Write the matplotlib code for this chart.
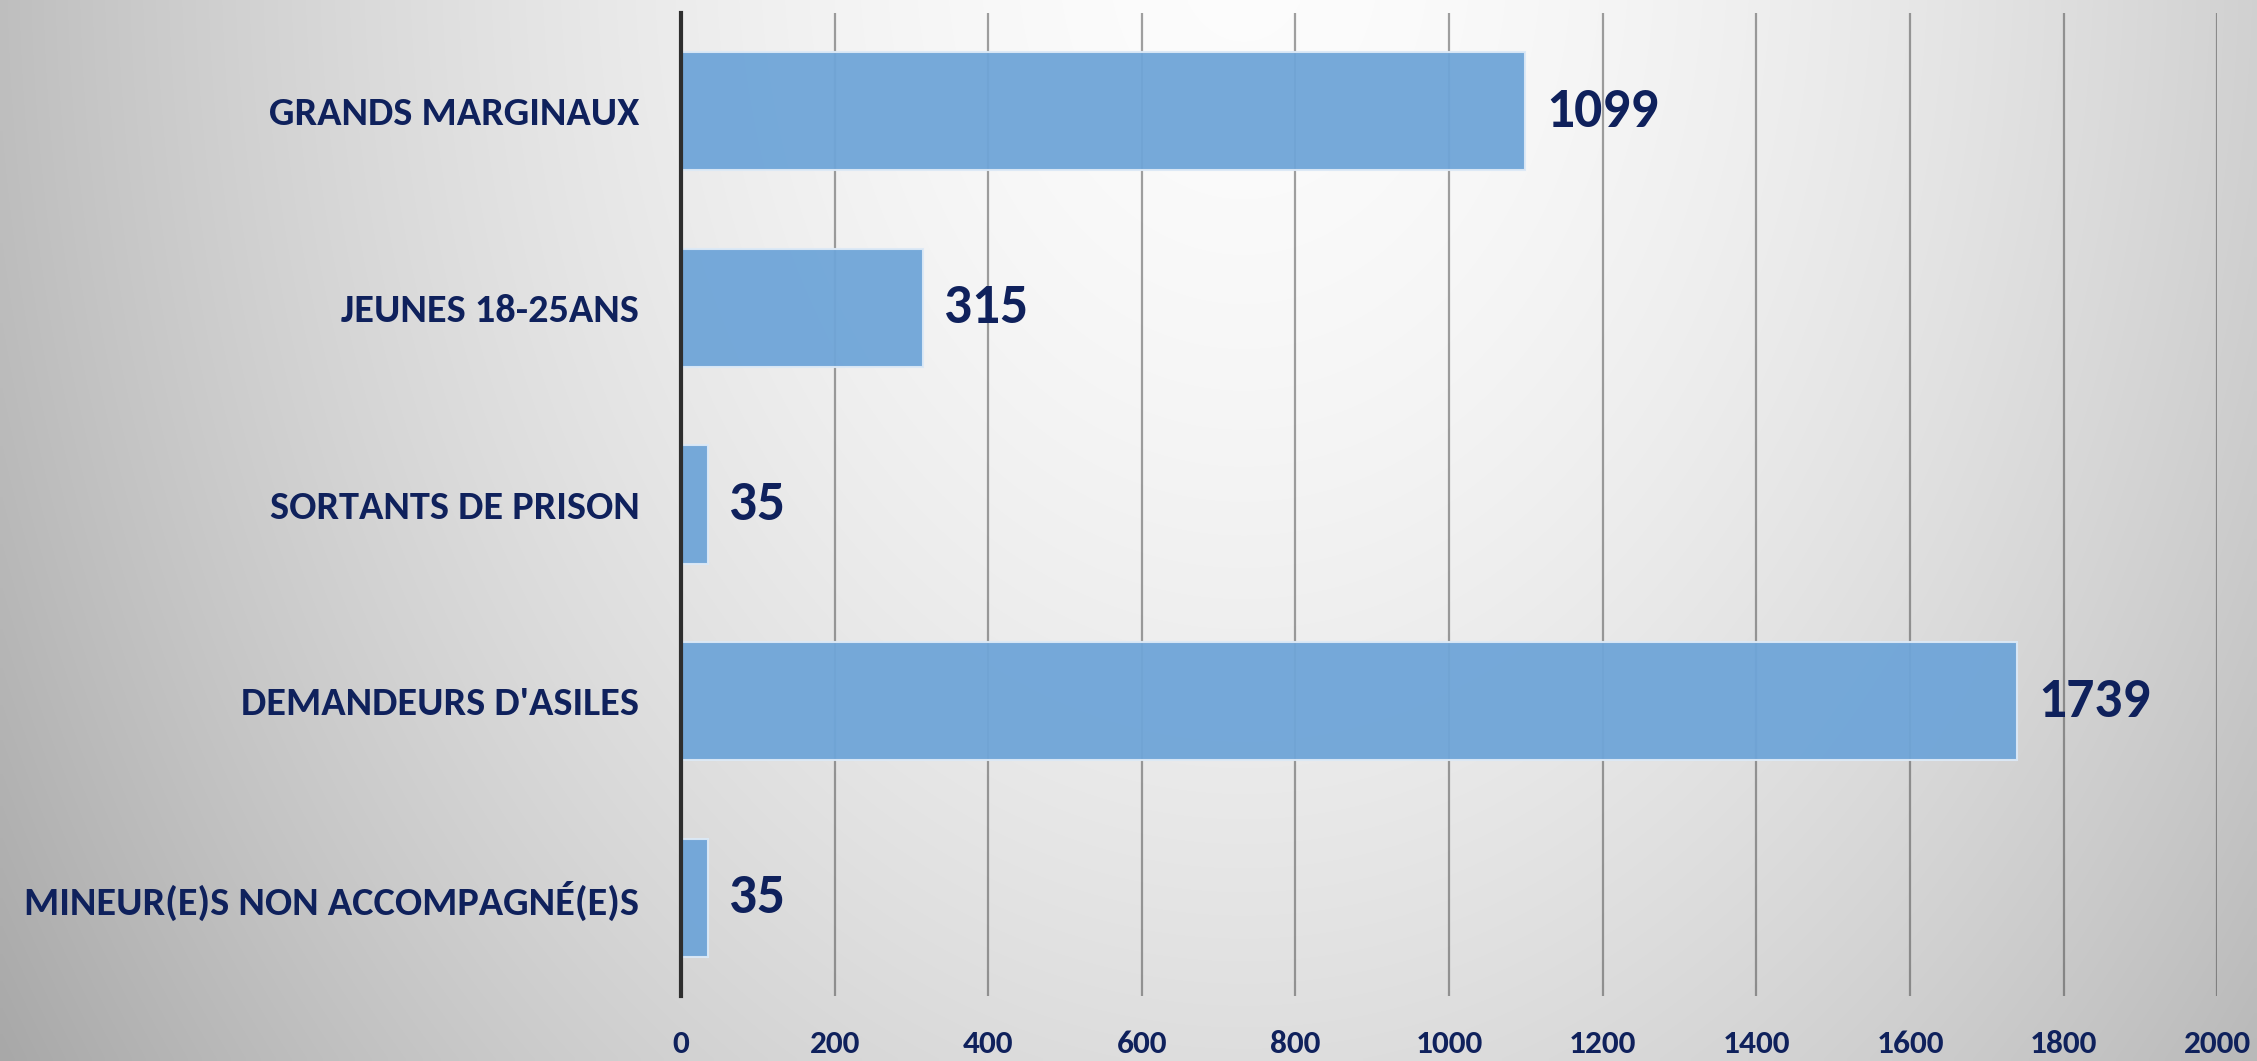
import matplotlib

matplotlib.use("Agg")
import matplotlib.pyplot as plt
import numpy as np

plt.rcParams["font.family"] = ["Liberation Sans Narrow", "Carlito",
                               "Roboto Condensed", "Roboto", "DejaVu Sans"]
plt.rcParams["font.weight"] = "bold"

NAVY = "#0f215c"
BAR = "#6fa5d8"

categories = ["GRANDS MARGINAUX", "JEUNES 18-25ANS", "SORTANTS DE PRISON",
              "DEMANDEURS D'ASILES", "MINEUR(E)S NON ACCOMPAGNÉ(E)S"]
values = [1099, 315, 35, 1739, 35]
xticks = [0, 200, 400, 600, 800, 1000, 1200, 1400, 1600, 1800, 2000]


def _backdrop(fig):
    # soft grey slide gradient, whitest at the top middle
    bg = fig.add_axes([0, 0, 1, 1], zorder=-10)
    h, w = 200, 420
    yy, xx = np.mgrid[0:h, 0:w]
    dx = (xx / w - 0.55) / 0.56
    dy = (yy / h + 0.05) / 1.6
    d = np.clip(np.sqrt(dx ** 2 + dy ** 2), 0, 1.2)
    g = 0.99 - 0.25 * d ** 1.7
    img = np.dstack([g, g, g])
    bg.imshow(img, aspect="auto", extent=[0, 1, 0, 1], interpolation="bilinear")
    bg.set_axis_off()


def main():
    fig = plt.figure(figsize=(22.57, 10.61), dpi=100)
    _backdrop(fig)
    ax = fig.add_axes([0.3017, 0.061, 0.6807, 0.927])
    ax.patch.set_alpha(0)

    y = np.arange(len(categories))
    ax.barh(y, values, height=0.6, color=BAR, edgecolor="#dce9f6",
            linewidth=1.5, alpha=0.95, zorder=3)
    for yi, v in zip(y, values):
        ax.text(v + 28, yi, str(v), color=NAVY, fontsize=40, va="center",
                ha="left", fontweight="bold", zorder=5)

    ax.set_xlim(0, 2000)
    ax.set_ylim(len(categories) - 0.5, -0.5)
    ax.set_xticks(xticks)
    ax.set_yticks(y)
    ax.set_yticklabels(categories)
    ax.xaxis.grid(True, color="#444444", alpha=0.5, lw=1.6, zorder=1)
    ax.set_axisbelow(True)
    for s in ("top", "right", "bottom"):
        ax.spines[s].set_visible(False)
    ax.spines["left"].set_color("#2e2e2e")
    ax.spines["left"].set_linewidth(3)
    ax.spines["left"].set_zorder(6)
    ax.tick_params(axis="x", length=0, pad=24, labelsize=24, labelcolor=NAVY)
    ax.tick_params(axis="y", length=0, pad=30, labelsize=29, labelcolor=NAVY)

    fig.savefig("out.png", dpi=100)
    plt.close(fig)


if __name__ == "__main__":
    main()
